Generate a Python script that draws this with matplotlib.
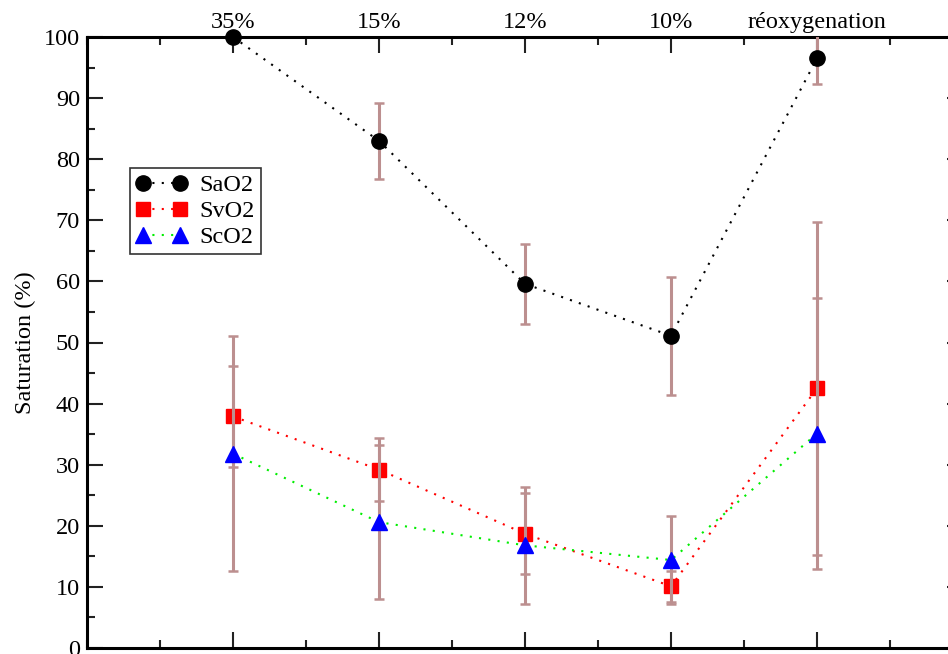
import matplotlib
matplotlib.use("Agg")
import matplotlib.pyplot as plt
from matplotlib.ticker import MultipleLocator

plt.rcParams['font.family'] = ['Liberation Serif', 'DejaVu Serif']

conditions = ["35%", "15%", "12%", "10%", "réoxygenation"]
x_pos = [1, 2, 3, 4, 5]

sao2 = [100.0, 83.0, 59.6, 51.1, 96.5]
sao2_err = [0.0, 6.2, 6.6, 9.7, 4.2]

svo2 = [37.9, 29.2, 18.7, 10.1, 42.5]
svo2_err = [8.2, 5.2, 6.6, 2.5, 27.3]

sco2 = [31.8, 20.6, 16.8, 14.4, 35.1]
sco2_err = [19.2, 12.6, 9.6, 7.2, 22.2]

err_color = '#bc8f8f'

fig = plt.figure(figsize=(9.48, 6.54), dpi=100)
ax = fig.add_axes([87/948, 6/654, 876/948, 611/654])

dot = (0, (1, 3.5))
l1, = ax.plot(x_pos, sao2, ls=dot, lw=1.5, color='black', marker='o', ms=11,
              mfc='black', mec='black', zorder=4, clip_on=False, label='SaO2')
l2, = ax.plot(x_pos, svo2, ls=dot, lw=1.5, color='red', marker='s', ms=10,
              mfc='red', mec='red', zorder=2.5, label='SvO2')
l3, = ax.plot(x_pos, sco2, ls=dot, lw=1.5, color='#00ee00', marker='^', ms=12,
              mfc='blue', mec='blue', zorder=4, label='ScO2')

for y, e in [(sao2, sao2_err), (svo2, svo2_err), (sco2, sco2_err)]:
    ax.errorbar(x_pos, y, yerr=e, fmt='none', ecolor=err_color, elinewidth=2.2,
                capsize=3.3, capthick=1.8, zorder=3)

ax.set_xlim(0, 6)
ax.set_ylim(0, 100)

ax.xaxis.set_major_locator(MultipleLocator(1))
ax.xaxis.set_minor_locator(MultipleLocator(0.5))
ax.yaxis.set_major_locator(MultipleLocator(10))
ax.yaxis.set_minor_locator(MultipleLocator(5))

ax.set_xticks(x_pos)
ax.set_xticklabels(conditions)
ax.tick_params(axis='x', which='both', direction='in', top=True, bottom=True,
               labeltop=True, labelbottom=False, labelsize=17.5, pad=3)
ax.tick_params(axis='y', which='both', direction='in', left=True, right=True,
               labelsize=17.5, pad=5)
ax.tick_params(which='major', length=11.5, width=1.5, color='#222222')
ax.tick_params(which='minor', length=6, width=1.5, color='#222222')

for s in ax.spines.values():
    s.set_linewidth(2.2)

ax.set_ylabel('Saturation (%)', fontsize=17.5, labelpad=6)

leg = ax.legend(handles=[l1, l2, l3], loc='upper left',
                numpoints=2, fontsize=17.5,
                frameon=True, fancybox=False, edgecolor='black',
                handlelength=2.1, handletextpad=0.5, borderpad=0.25,
                labelspacing=0.17, borderaxespad=0)
leg.get_frame().set_linewidth(1.2)
leg.set_bbox_to_anchor(((130 - 87) / 876, 1 - (168 - 37) / 611), transform=ax.transAxes)

fig.savefig('out.png', dpi=100)
